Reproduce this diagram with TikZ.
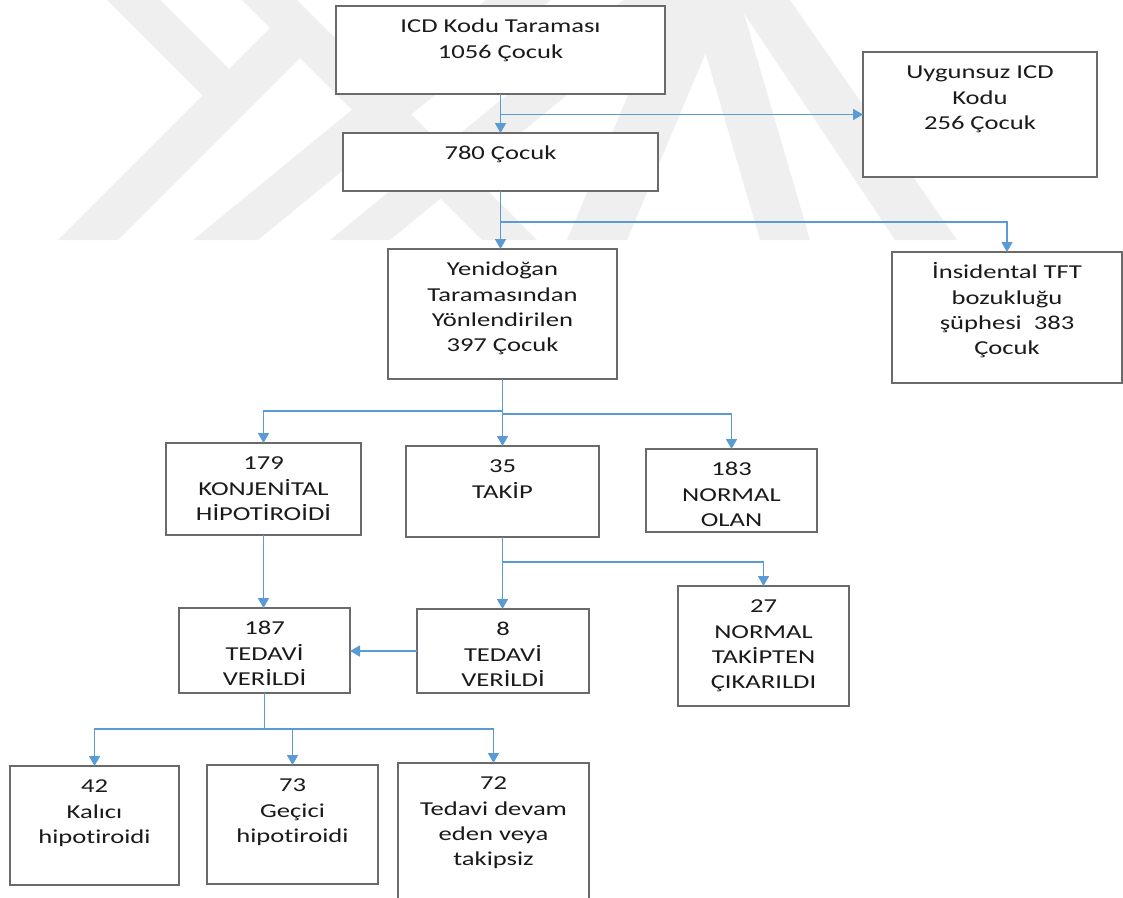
\documentclass[tikz,border=0pt]{standalone}
\usepackage{fontspec}
\setmainfont{Carlito}[FakeStretch=1.35, Ligatures=CommonOff]
\usetikzlibrary{arrows.meta,calc}
\definecolor{arrowblue}{HTML}{5B9BD5}
\definecolor{boxgray}{HTML}{6A6A6A}
\definecolor{wm}{HTML}{EFEFEF}
\definecolor{txtcol}{HTML}{1A1A1A}
\tikzset{
  box/.style={draw=boxgray, line width=1.7pt, fill=white, inner sep=0pt, outer sep=0pt},
  flow/.style={draw=arrowblue, line width=1.7pt, -{Triangle[length=10pt,width=11pt]}},
  flowline/.style={draw=arrowblue, line width=1.7pt},
  lbl/.style={inner sep=0pt, anchor=base, text=txtcol, font=\fontsize{19.7}{25.3}\selectfont},
}
\newcommand\mybox[6]{%
  \node[box, minimum width=#4-#2, minimum height=#5-#3] (#1) at ({(#2+#4)/2},{(#3+#5)/2}) {};
  \node[lbl] (#1-t) at ($(#1.north)+(0,26.7)$) {\begin{tabular}[t]{@{}c@{}}#6\end{tabular}};
}
\begin{document}
\begin{tikzpicture}[x=1pt,y=-1pt]
\useasboundingbox (0,0) rectangle (1123,897);
\clip (0,0) rectangle (1123,897);
% watermark
\begin{scope}
  \clip (0,0) rectangle (1123,240);
  \fill[wm] (107,0) -- (160,0) -- (259,99) -- (202.5,95.5) -- cycle;
  \fill[wm] (58,240) -- (118,240) -- (300,58) -- (270,28) -- cycle;
  \fill[wm] (242,0) -- (297,0) -- (537,240) -- (482,240) -- cycle;
  \fill[wm] (193,240) -- (258,240) -- (551,0) -- (486,0) -- cycle;
  \fill[wm] (330,240) -- (390,240) -- (683,0) -- (623,0) -- cycle;
  \fill[wm] (567,240) -- (627,240) -- (728,0) -- (668,0) -- cycle;
  \fill[wm] (690,0) -- (740,0) -- (810,240) -- (760,240) -- cycle;
  \fill[wm] (735,0) -- (790,0) -- (957,240) -- (895,240) -- cycle;
\end{scope}
% boxes
\mybox{icd}{336}{6}{665}{94}{ICD Kodu Taraması\\1056 Çocuk}
\mybox{uyg}{863}{52}{1097}{177}{Uygunsuz ICD\\Kodu\\256 Çocuk}
\mybox{c780}{343}{133}{658}{191}{780 Çocuk}
\mybox{yen}{388}{249}{617}{379}{Yenidoğan\\Taramasından\\Yönlendirilen\\397 Çocuk}
\mybox{ins}{892}{252}{1122}{383}{İnsidental TFT\\bozukluğu\\şüphesi~~383\\Çocuk}
\mybox{k179}{166}{443}{361}{535}{179\\KONJENİTAL\\HİPOTİROİDİ}
\mybox{t35}{406}{446}{599}{537}{35\\TAKİP}
\mybox{n183}{646}{449}{817}{532}{183\\NORMAL\\OLAN}
\mybox{t187}{179}{608}{350}{693}{187\\TEDAVİ\\VERİLDİ}
\mybox{t8}{417}{609}{589}{693}{8\\TEDAVİ\\VERİLDİ}
\mybox{n27}{678}{586}{849}{706}{27\\NORMAL\\TAKİPTEN\\ÇIKARILDI}
\mybox{k42}{10}{766}{179}{885}{42\\Kalıcı\\hipotiroidi}
\mybox{g73}{207}{765}{378}{884}{73\\Geçici\\hipotiroidi}
\mybox{t72}{398}{763}{589}{910}{72\\Tedavi devam\\eden veya\\takipsiz}
% connectors
\coordinate (j1) at (icd.south |- uyg.west);
\draw[flow] (icd.south) -- (icd.south |- c780.north);
\draw[flow] (j1) -- (uyg.west);
\coordinate (j2) at ($(c780.south)+(0,31)$);
\draw[flow] (c780.south) -- (c780.south |- yen.north);
\draw[flow] (j2) -| (ins.north);
\coordinate (j3) at ($(yen.south)+(0,32)$);
\coordinate (j3b) at ($(yen.south)+(0,35)$);
\draw[flow] (yen.south) -- (yen.south |- t35.north);
\draw[flow] (j3) -| (k179.north);
\draw[flow] (j3b) -| (n183.north);
\draw[flow] (k179.south) -- (k179.south |- t187.north);
\coordinate (j4) at ($(t35.south)+(0,25)$);
\draw[flow] (t35.south) -- (t35.south |- t8.north);
\draw[flow] (j4) -| (n27.north);
\draw[flow] (t8.west) -- (t8.west -| t187.east);
\coordinate (j5) at ($(t187.south)+(0,36)$);
\draw[flowline] (t187.south) -- (j5);
\draw[flow] (j5) -| (k42.north);
\draw[flow] (j5) -| (g73.north);
\draw[flow] (j5) -| (t72.north);
\end{tikzpicture}
\end{document}
